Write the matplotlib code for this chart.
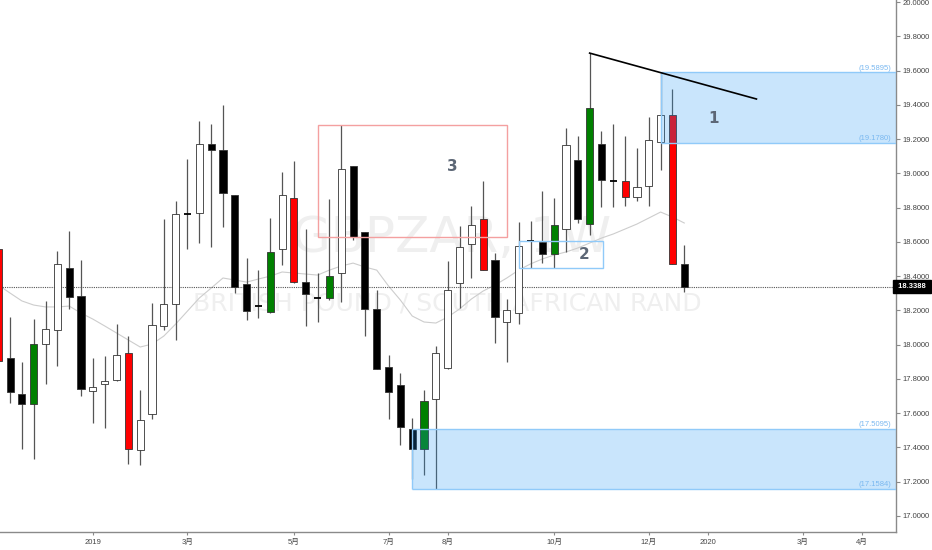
import numpy as np
import matplotlib
matplotlib.use('Agg')
import matplotlib.pyplot as plt
import matplotlib.patches as patches
import matplotlib.transforms as mtransforms

# Weekly GBPZAR candles (open, high, low, close)
opens = [18.558, 17.922, 17.712, 17.653, 18.003, 18.085, 18.447, 18.284, 17.729, 17.770,
         17.793, 17.951, 17.385, 17.595, 18.109, 18.237, 18.768, 18.768, 19.171, 19.136,
         18.873, 18.354, 18.226, 18.190, 18.558, 18.856, 18.365, 18.275, 18.272, 18.418,
         19.043, 18.657, 18.208, 17.869, 17.764, 17.507, 17.391, 17.682, 17.863, 18.360,
         18.587, 18.733, 18.494, 18.132, 18.184, 18.605, 18.599, 18.529, 18.675, 19.078,
         18.704, 19.171, 18.958, 18.955, 18.862, 18.926, 19.183, 19.340, 18.471]
highs = [18.581, 18.161, 17.898, 18.149, 18.255, 18.546, 18.663, 18.494, 17.922, 17.933,
         18.120, 18.050, 17.735, 18.243, 18.733, 18.838, 19.083, 19.305, 19.288, 19.399,
         18.873, 18.506, 18.435, 18.739, 19.008, 19.072, 18.675, 18.418, 18.850, 19.282,
         19.043, 18.657, 18.319, 17.939, 17.834, 17.572, 17.735, 17.992, 18.488, 18.692,
         18.809, 18.955, 18.535, 18.266, 18.716, 18.722, 18.897, 18.856, 19.264, 19.218,
         19.702, 19.247, 19.288, 19.218, 19.148, 19.329, 19.5895, 19.492, 18.581]
lows = [17.881, 17.659, 17.391, 17.332, 17.770, 17.875, 18.208, 17.700, 17.542, 17.513,
        17.790, 17.303, 17.297, 17.566, 18.085, 18.027, 18.558, 18.593, 18.570, 18.687,
        18.301, 18.144, 18.155, 18.184, 18.465, 18.360, 18.109, 18.132, 18.260, 18.249,
        18.611, 18.050, 17.856, 17.566, 17.414, 17.215, 17.239, 17.1584, 17.860, 18.214,
        18.389, 18.433, 18.009, 17.898, 18.120, 18.447, 18.476, 18.447, 18.541, 18.710,
        18.640, 18.803, 18.803, 18.809, 18.838, 18.809, 19.019, 18.468, 18.307]
closes = [17.904, 17.723, 17.653, 18.003, 18.091, 18.471, 18.278, 17.741, 17.753, 17.788,
          17.939, 17.391, 17.560, 18.114, 18.237, 18.762, 18.762, 19.171, 19.136, 18.885,
          18.336, 18.196, 18.220, 18.541, 18.873, 18.365, 18.295, 18.272, 18.400, 19.025,
          18.628, 18.208, 17.858, 17.723, 17.519, 17.391, 17.671, 17.951, 18.319, 18.570,
          18.698, 18.435, 18.161, 18.202, 18.576, 18.600, 18.529, 18.698, 19.165, 18.733,
          19.381, 18.961, 18.955, 18.862, 18.920, 19.194, 19.340, 18.471, 18.3388]
# bar colouring used on the chart: w=white, k=black, g=green, r=red
kinds = list('rkkgwwkkwwwrwwwwkwkkkkkgwrkkgwkkkkkkgwwwwrkwwkkgwkgkkrwwwrk')

# gray moving average
ma = [18.348, 18.301, 18.255, 18.231, 18.220, 18.220, 18.225, 18.184, 18.149, 18.109,
      18.068, 18.027, 17.986, 18.003, 18.050, 18.120, 18.196, 18.272, 18.330, 18.389,
      18.377, 18.365, 18.383, 18.400, 18.424, 18.418, 18.412, 18.406, 18.435, 18.459,
      18.476, 18.453, 18.435, 18.342, 18.260, 18.167, 18.132, 18.126, 18.161, 18.208,
      18.266, 18.313, 18.348, 18.389, 18.435, 18.471, 18.500, 18.523, 18.541, 18.564,
      18.593, 18.622, 18.646, 18.675, 18.704, 18.739, 18.774, 18.745, 18.710]

last_price = 18.3388
tick_pos = [8, 16, 25, 33, 38, 47, 55, 60, 68, 73]
tick_labels = ['2019', '3月', '5月', '7月', '8月', '10月', '12月', '2020', '3月', '4月']

zone_top = [19.5895, 17.5095]
zone_bot = [19.1780, 17.1584]
zone_start = [56, 35]
trend_x = [50, 64.1]
trend_y = [19.702, 19.434]

small_font = ['Liberation Sans Narrow', 'Liberation Sans', 'Noto Sans CJK SC']

fig = plt.figure(figsize=(9.32, 5.5), dpi=100)
ax = fig.add_axes([0, 18 / 550, 896 / 932, 532 / 550])
ax.set_xlim(0.15, 75.9)
ax.set_ylim(16.906, 20.012)

# watermark
ax.text(0.504, 0.553, 'GBPZAR, 1W', transform=ax.transAxes, ha='center', va='center',
        fontsize=36, color='#efefef', family=['Liberation Sans Narrow', 'DejaVu Sans'], zorder=0)
ax.text(0.499, 0.429, 'BRITISH POUND / SOUTH AFRICAN RAND', transform=ax.transAxes,
        ha='center', va='center', fontsize=18, color='#efefef',
        family=['Liberation Sans Narrow', 'DejaVu Sans'], zorder=0)

ax.plot(range(len(ma)), ma, color='#cdcdcd', lw=0.8, zorder=1)

face = {'w': 'white', 'k': 'black', 'g': '#008000', 'r': '#ff0000'}
for i, (o, h, l, c, k) in enumerate(zip(opens, highs, lows, closes, kinds)):
    ax.vlines(i, l, h, color='#555555', lw=0.9, zorder=2)
    lo, hi = min(o, c), max(o, c)
    if hi - lo < 0.01:
        ax.hlines((o + c) / 2, i - 0.3, i + 0.3, color='black', lw=1.3, zorder=3)
    else:
        ax.add_patch(patches.Rectangle((i - 0.3, lo), 0.6, hi - lo, facecolor=face[k],
                                       edgecolor='#333333', lw=0.6, zorder=3))

# dotted last price line
ax.axhline(last_price, color='#555555', ls=(0, (1, 1)), lw=0.8, zorder=2)

# supply / demand zones
for top, bot, start in zip(zone_top, zone_bot, zone_start):
    ax.add_patch(patches.Rectangle((start, bot), 80 - start, top - bot, facecolor='#2196f3',
                                   alpha=0.24, edgecolor='none', zorder=4))
    ax.hlines([top, bot], start, 80, color='#90caf9', lw=1.0, zorder=4)
    ax.vlines(start, bot, top, color='#90caf9', lw=1.0, zorder=4)
    for v in (top, bot):
        ax.text(0.9944, v + 0.004, f'({v:.4f})', transform=mtransforms.blended_transform_factory(
            ax.transAxes, ax.transData), ha='right', va='bottom', fontsize=5.5,
            color='#7ab8f0', family=small_font, zorder=5)

# boxes 2 and 3
ax.add_patch(patches.Rectangle((44.0, 18.447), 7.1, 18.605 - 18.447, facecolor='none',
                               edgecolor='#90caf9', lw=1.0, zorder=4))
ax.add_patch(patches.Rectangle((27.0, 18.628), 16.0, 19.282 - 18.628, facecolor='none',
                               edgecolor='#f4a0a0', lw=1.0, zorder=4))

ax.plot(trend_x, trend_y, color='black', lw=1.2, zorder=5)

for s, x, y in [('1', 60.5, 19.323), ('2', 49.5, 18.529), ('3', 38.4, 19.037)]:
    ax.text(x, y, s, ha='center', va='center', fontsize=11, fontweight='bold',
            color='#5d6776', zorder=6)

# axes styling
for side in ['left', 'top']:
    ax.spines[side].set_visible(False)
for side in ['right', 'bottom']:
    ax.spines[side].set_color('#8a8a8a')
    ax.spines[side].set_linewidth(1.0)
ax.yaxis.tick_right()
yt = np.arange(17.0, 20.01, 0.2)
ax.set_yticks(yt)
ax.set_yticklabels([f'{v:.4f}' for v in yt], family=small_font)
ax.set_xticks(tick_pos)
ax.set_xticklabels(tick_labels, family=small_font)
ax.tick_params(axis='y', length=3, color='#8a8a8a', labelsize=5.5, labelcolor='#444444', pad=2)
ax.tick_params(axis='x', length=2, color='#8a8a8a', labelsize=5.5, labelcolor='#444444', pad=3)

ax.text(1.0, last_price, ' 18.3388 ', transform=mtransforms.blended_transform_factory(
    ax.transAxes, ax.transData), ha='left', va='center', fontsize=5.5, fontweight='bold',
    color='white', family=small_font, clip_on=False, zorder=7,
    bbox=dict(boxstyle='square,pad=0.35', facecolor='black', edgecolor='black'))

fig.savefig('out.png', dpi=100)
